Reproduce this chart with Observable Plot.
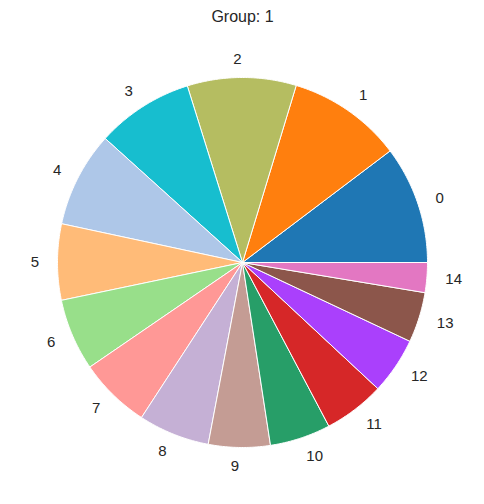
<!DOCTYPE html>
<html>
<head>
<meta charset="utf-8">
<script src="https://cdn.jsdelivr.net/npm/d3@7"></script>
<script src="https://cdn.jsdelivr.net/npm/@observablehq/plot@0.6"></script>
<style>
  html, body { margin: 0; padding: 0; background: #fff; }
  #chart svg { display: block; }
</style>
</head>
<body>
<div id="chart"></div>
<script>
const title = "Group: 1";
const categories = ["0","1","2","3","4","5","6","7","8","9","10","11","12","13","14"];
const values = [10.30, 10.01, 9.51, 8.49, 8.33, 6.64, 6.28, 6.25, 6.22, 5.39, 5.31, 5.33, 4.94, 4.39, 2.61];
const colors = ["#1f77b4","#ff7f0e","#b5bd61","#17becf","#aec7e8","#ffbb78","#98df8a","#ff9896","#c5b0d5","#c49c94","#279e68","#d62728","#aa40fc","#8c564b","#e377c2"];

const W = 484, H = 504, cx = 242, cy = 262, R = 185;

// slice geometry (counterclockwise from 3 o'clock, like matplotlib)
const total = d3.sum(values);
const slices = [];
let acc = 0;
values.forEach((v, i) => {
  const a0 = acc / total * 2 * Math.PI;
  acc += v;
  const a1 = acc / total * 2 * Math.PI;
  slices.push({cat: categories[i], color: colors[i], a0, a1, mid: (a0 + a1) / 2});
});

const pts = [];
slices.forEach(s => {
  pts.push({key: s.cat, color: s.color, x: 0, y: 0});
  const n = Math.max(2, Math.ceil((s.a1 - s.a0) / (Math.PI / 360)));
  for (let k = 0; k <= n; k++) {
    const a = s.a0 + (s.a1 - s.a0) * k / n;
    pts.push({key: s.cat, color: s.color, x: Math.cos(a), y: Math.sin(a)});
  }
  pts.push({key: s.cat, color: s.color, x: 0, y: 0});
});

const labels = slices.map(s => ({
  text: s.cat,
  x: 1.1 * Math.cos(s.mid),
  y: 1.1 * Math.sin(s.mid)
}));

const font = "'Liberation Sans', Arial, sans-serif";

const plot = Plot.plot({
  width: W,
  height: H,
  margin: 0,
  x: {domain: [-cx / R, (W - cx) / R], axis: null},
  y: {domain: [-(H - cy) / R, cy / R], axis: null},
  color: {type: "identity"},
  style: {fontFamily: font, color: "#262626", background: "#fff"},
  marks: [
    Plot.line(pts, {x: "x", y: "y", z: "key", fill: "color", stroke: "white", strokeWidth: 1, strokeLinejoin: "round"}),
    Plot.text(labels.filter(d => d.x > 0), {x: "x", y: "y", text: "text", textAnchor: "start", fontSize: 15, fill: "#262626"}),
    Plot.text(labels.filter(d => d.x <= 0), {x: "x", y: "y", text: "text", textAnchor: "end", fontSize: 15, fill: "#262626"}),
    Plot.text([title], {x: () => 0, y: () => (cy - 16.5) / R, text: d => d, fontSize: 16, fill: "#262626"})
  ]
});
document.getElementById("chart").appendChild(plot);
</script>
</body>
</html>
